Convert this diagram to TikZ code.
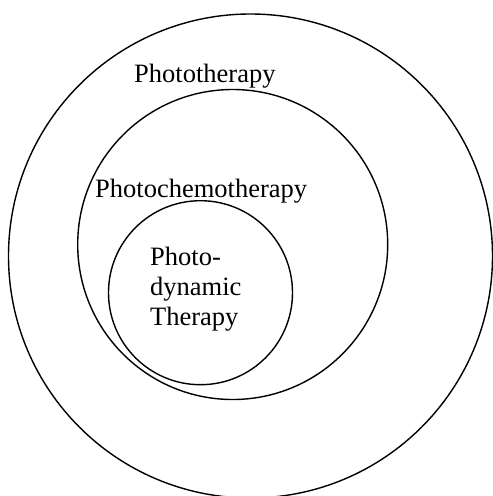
\documentclass[tikz,border=0pt]{standalone}
\usepackage{fontspec}
\setmainfont{Liberation Serif}

\tikzset{
  ring/.style={draw, circle, line width=1.4pt, inner sep=0pt},
  lbl/.style={inner sep=0pt, font=\fontsize{26.5}{30}\selectfont}
}

\begin{document}
\begin{tikzpicture}[x=1pt,y=-1pt]
  \useasboundingbox (0,0) rectangle (493,496);
  % nested circles
  \node [ring, minimum size=484] (outer) at (250.5,256) {};
  \node [ring, minimum size=310] (middle) at (232.7,244.5) {};
  \node [ring, minimum size=184] (inner) at (200.5,292.7) {};
  % labels
  \node [lbl, anchor=base west] (photo) at (134,82) {Phototherapy};
  \node [lbl, anchor=base west] (chemo) at (95,197) {Photochemotherapy};
  \node [lbl, anchor=north west, align=left] (pdt) at (150,247) {Photo-\\dynamic\\Therapy};
\end{tikzpicture}
\end{document}
